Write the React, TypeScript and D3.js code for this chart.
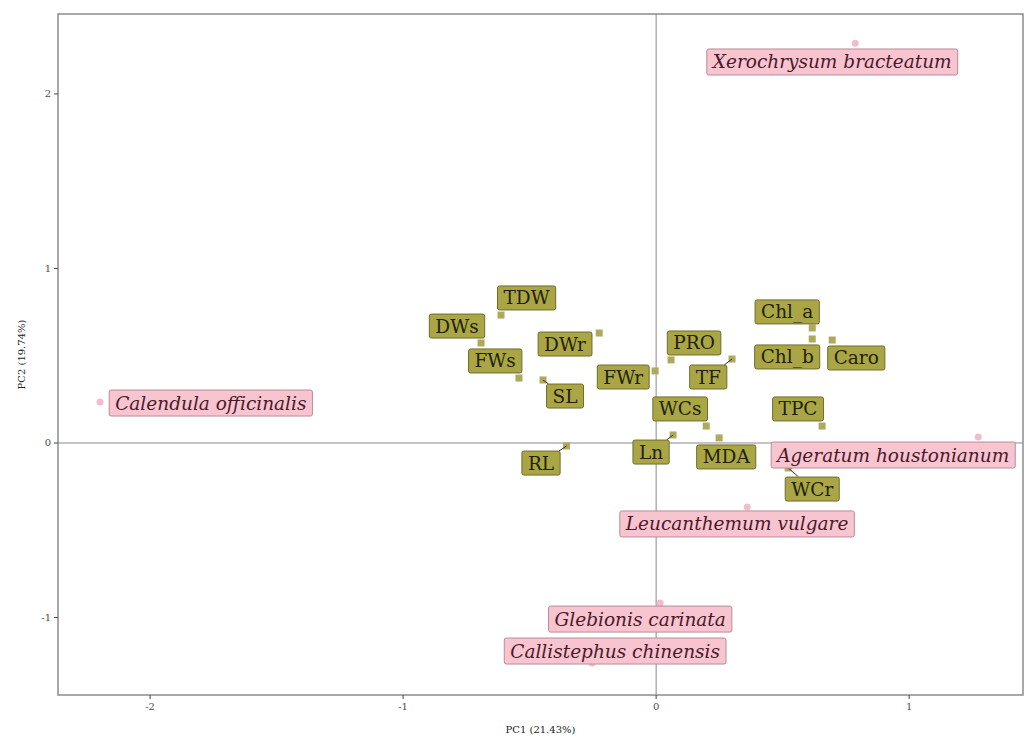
import React from "react";
import * as d3 from "d3";

// Species (individuals) scores
const speciesNames = [
  "Xerochrysum bracteatum",
  "Calendula officinalis",
  "Ageratum houstonianum",
  "Leucanthemum vulgare",
  "Glebionis carinata",
  "Callistephus chinensis",
];
const speciesPC1 = [0.787, -2.198, 1.273, 0.36, 0.016, -0.253];
const speciesPC2 = [2.29, 0.235, 0.034, -0.367, -0.917, -1.261];
// repelled label centres (data units)
const speciesLabelPC1 = [0.696, -1.76, 0.937, 0.32, -0.063, -0.162];
const speciesLabelPC2 = [2.183, 0.229, -0.069, -0.464, -1.009, -1.192];

// Variables scores
const varNames = ["TDW", "DWs", "FWs", "DWr", "SL", "FWr", "RL", "PRO", "TF", "WCs", "Ln", "MDA", "Chl_a", "Chl_b", "Caro", "TPC", "WCr"];
const varPC1 = [-0.613, -0.692, -0.542, -0.225, -0.447, -0.004, -0.354, 0.059, 0.3, 0.198, 0.067, 0.249, 0.617, 0.617, 0.696, 0.656, 0.522];
const varPC2 = [0.733, 0.573, 0.372, 0.63, 0.361, 0.413, -0.017, 0.476, 0.481, 0.097, 0.046, 0.029, 0.659, 0.596, 0.59, 0.097, -0.143];
const varLabelPC1 = [-0.512, -0.787, -0.636, -0.36, -0.36, -0.13, -0.455, 0.15, 0.206, 0.095, -0.02, 0.277, 0.518, 0.518, 0.791, 0.561, 0.617];
const varLabelPC2 = [0.831, 0.67, 0.47, 0.567, 0.269, 0.378, -0.115, 0.573, 0.378, 0.195, -0.052, -0.08, 0.751, 0.493, 0.487, 0.195, -0.264];
const segmentVars = ["SL", "RL", "Ln", "TF", "WCr"];

const xTicks = [-2, -1, 0, 1];
const yTicks = [-1, 0, 1, 2];
const xTitle = "PC1 (21.43%)";
const yTitle = "PC2 (19.74%)";

const FONT = "'DejaVu Serif', 'Liberation Serif', serif";
const VAR_SIZE = 18.5;
const SP_SIZE = 18.5;

let ctx: CanvasRenderingContext2D | null = null;
function measure(text: string, font: string) {
  if (!ctx) ctx = document.createElement("canvas").getContext("2d");
  if (!ctx) return text.length * 9;
  ctx.font = font;
  return ctx.measureText(text).width;
}

function edgePoint(px: number, py: number, cx: number, cy: number, w: number, h: number) {
  const dx = px - cx, dy = py - cy;
  const sx = dx !== 0 ? (w / 2) / Math.abs(dx) : Infinity;
  const sy = dy !== 0 ? (h / 2) / Math.abs(dy) : Infinity;
  const s = Math.min(sx, sy, 1);
  return [cx + dx * s, cy + dy * s];
}

export default function App() {
  const W = 1025, H = 738;
  const left = 58, right = 1023, top = 14, bottom = 695;
  const x = d3.scaleLinear().domain([-2.364, 1.45]).range([left, right]);
  const y = d3.scaleLinear().domain([-1.444, 2.458]).range([bottom, top]);

  const spFont = `italic ${SP_SIZE}px ${FONT}`;
  const varFont = `${VAR_SIZE}px ${FONT}`;
  const padX = 6, spH = 26, varH = 24;

  return (
    <svg width={W} height={H} style={{ position: "absolute", left: 0, top: 0, background: "#fff" }}>
      <rect x={left} y={top} width={right - left} height={bottom - top} fill="#fff" />
      {/* zero lines */}
      <line x1={x(0)} x2={x(0)} y1={top} y2={bottom} stroke="#8a8a8a" strokeWidth={1} />
      <line x1={left} x2={right} y1={y(0)} y2={y(0)} stroke="#8a8a8a" strokeWidth={1} />

      {/* species points */}
      {speciesNames.map((n, i) => (
        <circle key={"sp" + n} cx={x(speciesPC1[i])} cy={y(speciesPC2[i])} r={3.5} fill="#f4bccb" />
      ))}
      {/* variable points */}
      {varNames.map((n, i) => (
        <rect key={"vp" + n} x={x(varPC1[i]) - 3.5} y={y(varPC2[i]) - 3.5} width={7} height={7} fill="#aeaa5c" />
      ))}

      {/* segments */}
      {varNames.map((n, i) => {
        if (!segmentVars.includes(n)) return null;
        const w = measure(n, varFont) + padX * 2;
        const cx = x(varLabelPC1[i]), cy = y(varLabelPC2[i]);
        const px = x(varPC1[i]), py = y(varPC2[i]);
        const [ex, ey] = edgePoint(px, py, cx, cy, w, varH);
        return <line key={"seg" + n} x1={px} y1={py} x2={ex} y2={ey} stroke="#333" strokeWidth={1} />;
      })}

      {/* species labels */}
      {speciesNames.map((n, i) => {
        const w = measure(n, spFont) + padX * 2;
        const cx = x(speciesLabelPC1[i]), cy = y(speciesLabelPC2[i]);
        return (
          <g key={"sl" + n}>
            <rect x={cx - w / 2} y={cy - spH / 2} width={w} height={spH} rx={2} fill="#f7c4cf" stroke="#b88d97" strokeWidth={1} />
            <text x={cx} y={cy} textAnchor="middle" dominantBaseline="central" fontFamily={FONT} fontStyle="italic" fontSize={SP_SIZE} fill="#4a1a2c">{n}</text>
          </g>
        );
      })}

      {/* variable labels */}
      {varNames.map((n, i) => {
        const w = measure(n, varFont) + padX * 2;
        const cx = x(varLabelPC1[i]), cy = y(varLabelPC2[i]);
        return (
          <g key={"vl" + n}>
            <rect x={cx - w / 2} y={cy - varH / 2} width={w} height={varH} rx={2} fill="#aaa646" stroke="#6f6d2c" strokeWidth={1} />
            <text x={cx} y={cy} textAnchor="middle" dominantBaseline="central" fontFamily={FONT} fontSize={VAR_SIZE} fill="#222208">{n}</text>
          </g>
        );
      })}

      {/* panel border */}
      <rect x={left} y={top} width={right - left} height={bottom - top} fill="none" stroke="#8c8c8c" strokeWidth={1.5} />

      {/* ticks */}
      {xTicks.map((t) => (
        <g key={"xt" + t}>
          <line x1={x(t)} x2={x(t)} y1={bottom} y2={bottom + 4} stroke="#444" strokeWidth={1} />
          <text x={x(t)} y={bottom + 15} textAnchor="middle" fontFamily={FONT} fontSize={10} fill="#4d4d4d">{t}</text>
        </g>
      ))}
      {yTicks.map((t) => (
        <g key={"yt" + t}>
          <line x1={left - 4} x2={left} y1={y(t)} y2={y(t)} stroke="#444" strokeWidth={1} />
          <text x={left - 7} y={y(t)} textAnchor="end" dominantBaseline="central" fontFamily={FONT} fontSize={10} fill="#4d4d4d">{t}</text>
        </g>
      ))}

      <text x={(left + right) / 2} y={733} textAnchor="middle" fontFamily={FONT} fontSize={10} fill="#222">{xTitle}</text>
      <text transform={`translate(25, ${(top + bottom) / 2}) rotate(-90)`} textAnchor="middle" fontFamily={FONT} fontSize={10} fill="#222">{yTitle}</text>
    </svg>
  );
}
